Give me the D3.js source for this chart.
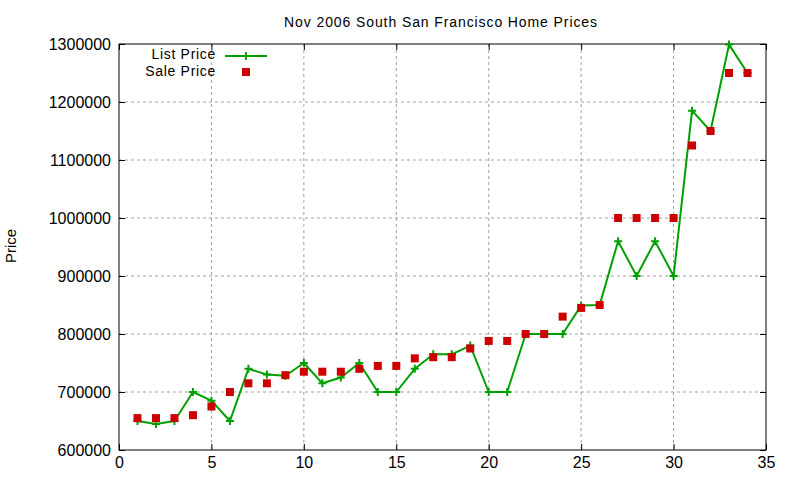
<!DOCTYPE html>
<html>
<head>
<meta charset="utf-8">
<script src="https://cdn.jsdelivr.net/npm/d3@7"></script>
<style>
  body { margin: 0; background: #fff; }
  svg { font-family: "Liberation Sans", Arial, sans-serif; }
</style>
</head>
<body>
<svg width="800" height="480"></svg>
<script>
// data
var houses = [1, 2, 3, 4, 5, 6, 7, 8, 9, 10, 11, 12, 13, 14, 15, 16, 17,
              18, 19, 20, 21, 22, 23, 24, 25, 26, 27, 28, 29, 30, 31, 32, 33, 34];
var listPrice = [650000, 645000, 650000, 700000, 685000, 650000, 740000, 730000, 728000, 750000,
                 715000, 725000, 750000, 700000, 700000, 740000, 765000, 765000, 780000, 700000,
                 700000, 800000, 800000, 800000, 849000, 850000, 960000, 900000, 960000, 900000,
                 1185000, 1150000, 1299000, 1250000];
var salePrice = [655000, 655000, 655000, 660000, 675000, 700000, 715000, 715000, 729000, 735000,
                 735000, 735000, 740000, 745000, 745000, 758000, 760000, 760000, 775000, 788000,
                 788000, 800000, 800000, 830000, 845000, 850000, 1000000, 1000000, 1000000, 1000000,
                 1125000, 1150000, 1250000, 1250000];
var xTicks = [0, 5, 10, 15, 20, 25, 30, 35];
var yTicks = [600000, 700000, 800000, 900000, 1000000, 1100000, 1200000, 1300000];

var margin = {top: 44, right: 34, bottom: 30, left: 119};
var svg = d3.select("svg");
var width = +svg.attr("width") - margin.left - margin.right,
    height = +svg.attr("height") - margin.top - margin.bottom;

var green = "#00a000", red = "#cc0000";

var g = svg.append("g").attr("transform", "translate(" + margin.left + "," + margin.top + ")");

var x = d3.scaleLinear().domain([0, 35]).range([0, width]);
var y = d3.scaleLinear().domain([600000, 1300000]).range([height, 0]);

// grid
g.append("g").selectAll("line").data(xTicks.slice(1, -1)).enter().append("line")
  .attr("x1", d => x(d)).attr("x2", d => x(d))
  .attr("y1", 0).attr("y2", height)
  .attr("stroke", "#a0a0a0").attr("stroke-dasharray", "3,3");
g.append("g").selectAll("line").data(yTicks.slice(1, -1)).enter().append("line")
  .attr("y1", d => y(d)).attr("y2", d => y(d))
  .attr("x1", 0).attr("x2", width)
  .attr("stroke", "#a0a0a0").attr("stroke-dasharray", "3,3");

// axes, ticks pointing inward like gnuplot
function styleAxis(sel) {
  sel.select(".domain").remove();
  sel.selectAll("line").attr("stroke", "#000");
  sel.selectAll("text").attr("fill", "#000").style("font-size", "16px");
}
g.append("g").attr("transform", "translate(0," + height + ")")
  .call(d3.axisBottom(x).tickValues(xTicks).tickSize(-6).tickPadding(7))
  .call(styleAxis);
g.append("g")
  .call(d3.axisTop(x).tickValues(xTicks).tickSize(-6).tickFormat(""))
  .call(styleAxis);
g.append("g")
  .call(d3.axisLeft(y).tickValues(yTicks).tickSize(-6).tickPadding(8).tickFormat(d3.format("d")))
  .call(styleAxis);
g.append("g").attr("transform", "translate(" + width + ",0)")
  .call(d3.axisRight(y).tickValues(yTicks).tickSize(-6).tickFormat(""))
  .call(styleAxis);

g.append("rect").attr("width", width).attr("height", height)
  .attr("fill", "none").attr("stroke", "#000").attr("stroke-width", 1);

// list price line
var line = d3.line()
  .x((d, i) => x(houses[i]))
  .y(d => y(d));

g.append("path").datum(listPrice)
  .attr("fill", "none").attr("stroke", green).attr("stroke-width", 2)
  .attr("stroke-linejoin", "round")
  .attr("d", line);

function plus(sel, cx, cy) {
  sel.append("path")
    .attr("d", "M" + (cx - 4) + "," + cy + "H" + (cx + 4) + "M" + cx + "," + (cy - 4) + "V" + (cy + 4))
    .attr("stroke", green).attr("stroke-width", 2);
}
var pts = g.append("g");
listPrice.forEach(function(d, i) { plus(pts, x(houses[i]), y(d)); });

// sale price squares
g.append("g").selectAll("rect").data(salePrice).enter().append("rect")
  .attr("x", (d, i) => x(houses[i]) - 4)
  .attr("y", d => y(d) - 4)
  .attr("width", 8).attr("height", 8)
  .attr("fill", red);

// legend
var lg = svg.append("g").style("font-size", "14px").style("letter-spacing", "0.7px");
lg.append("text").attr("x", 216).attr("y", 59).attr("text-anchor", "end").text("List Price");
lg.append("line").attr("x1", 225).attr("x2", 267).attr("y1", 56).attr("y2", 56)
  .attr("stroke", green).attr("stroke-width", 2);
plus(lg, 246, 56);
lg.append("text").attr("x", 216).attr("y", 76).attr("text-anchor", "end").text("Sale Price");
lg.append("rect").attr("x", 242).attr("y", 68).attr("width", 8).attr("height", 8).attr("fill", red);

// title and y label
svg.append("text").attr("x", 441).attr("y", 27).attr("text-anchor", "middle")
  .style("font-size", "14px").style("letter-spacing", "0.9px")
  .text("Nov 2006 South San Francisco Home Prices");
svg.append("text").attr("transform", "translate(16,246) rotate(-90)")
  .attr("text-anchor", "middle").style("font-size", "15px").text("Price");
</script>
</body>
</html>
